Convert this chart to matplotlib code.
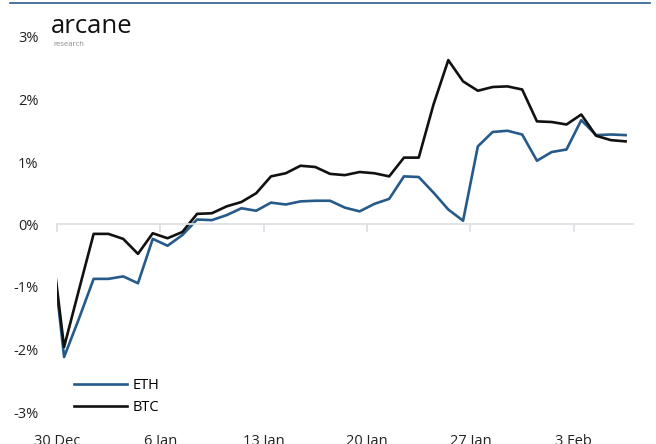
import matplotlib
matplotlib.use('Agg')
import matplotlib.pyplot as plt
import pandas as pd

plt.rcParams['font.family'] = ['Open Sans', 'DejaVu Sans']

# daily points, 29 Dec 2019 -> 6 Feb 2020 (noon)
dates = pd.date_range('2019-12-29 12:00', periods=40, freq='D')

eth = [0.0, -2.12, -1.51, -0.87, -0.87, -0.83, -0.94, -0.23, -0.34, -0.17,
       0.08, 0.07, 0.15, 0.26, 0.22, 0.35, 0.32, 0.37, 0.38, 0.38,
       0.27, 0.21, 0.33, 0.41, 0.77, 0.76, 0.51, 0.24, 0.06, 1.25,
       1.48, 1.50, 1.44, 1.02, 1.16, 1.20, 1.67, 1.43, 1.44, 1.43]
btc = [0.0, -1.96, -1.05, -0.15, -0.15, -0.23, -0.47, -0.14, -0.22, -0.12,
       0.17, 0.18, 0.29, 0.36, 0.50, 0.77, 0.82, 0.94, 0.92, 0.81,
       0.79, 0.84, 0.82, 0.77, 1.07, 1.07, 1.92, 2.63, 2.29, 2.14,
       2.20, 2.21, 2.16, 1.65, 1.64, 1.60, 1.76, 1.42, 1.35, 1.33]

tick_dates = pd.to_datetime(['2019-12-30', '2020-01-06', '2020-01-13',
                             '2020-01-20', '2020-01-27', '2020-02-03'])
tick_labels = ['30 Dec', '6 Jan', '13 Jan', '20 Jan', '27 Jan', '3 Feb']
y_ticks = [-3, -2, -1, 0, 1, 2, 3]

W, H = 656, 444
fig = plt.figure(figsize=(W / 100, H / 100), dpi=100)
ax = fig.add_axes([56.7 / W, 1 - 412 / H, (633 - 56.7) / W, (412 - 37) / H])

ax.plot(dates, eth, color='#255a8a', linewidth=1.9, label='ETH')
ax.plot(dates, btc, color='#111111', linewidth=1.9, label='BTC')

ax.set_xlim(pd.Timestamp('2019-12-30'), pd.Timestamp('2020-02-07'))
ax.set_ylim(-3, 3)

# x axis sits on the zero line, labels pushed down to the bottom
for s in ['top', 'right', 'left']:
    ax.spines[s].set_visible(False)
ax.spines['bottom'].set_position(('data', 0))
ax.spines['bottom'].set_color('#dde1e6')
ax.spines['bottom'].set_linewidth(1.3)
ax.set_xticks(tick_dates)
ax.set_xticklabels(tick_labels)
ax.tick_params(axis='x', length=6, width=1.3, color='#dde1e6',
               pad=145, labelsize=10.5, labelcolor='#222222')

ax.set_yticks(y_ticks)
ax.set_yticklabels(['{}%'.format(v) for v in y_ticks])
ax.tick_params(axis='y', length=0, pad=13, labelsize=10.5, labelcolor='#222222')

ax.legend(loc='upper left', bbox_to_anchor=(0.02, 0.105), frameon=False,
          fontsize=10.5, handlelength=3.6, labelspacing=0.45, handletextpad=0.4,
          borderaxespad=0)

# logo and header rule
fig.text(51 / W, 1 - 33 / H, 'arcane', fontsize=18.5, color='#111111',
         ha='left', va='baseline')
fig.text(53 / W, 1 - 46 / H, 'research', fontsize=5.5, color='#888888',
         ha='left', va='baseline')
fig.add_artist(plt.Line2D([10 / W, 650 / W], [1 - 3 / H, 1 - 3 / H],
                          color='#2b5b8c', linewidth=1.2))

fig.savefig('out.png', dpi=100)
